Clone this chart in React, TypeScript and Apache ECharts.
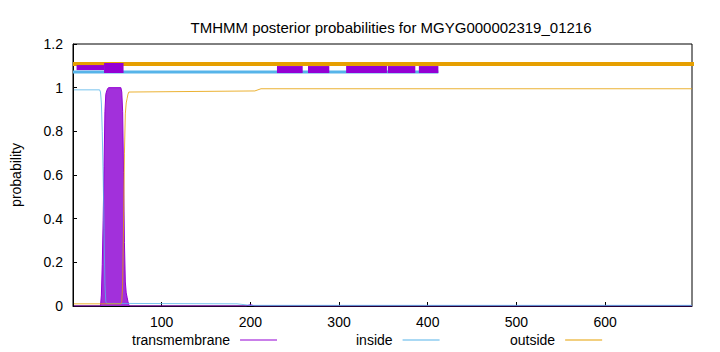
import React, { useEffect, useRef } from 'react';
import * as echarts from 'echarts';

const titleText = 'TMHMM posterior probabilities for MGYG000002319_01216';
const yAxisName = 'probability';
const seqLength = 698;
const legendNames = ['transmembrane', 'inside', 'outside'];

// posterior probability curves: [residue, probability]
const transmembranePts: [number, number][] = [
  [1, 0], [31, 0], [32, 0.05], [33, 0.19], [34, 0.39], [35, 0.64], [36, 0.89],
  [37, 0.97], [38, 0.985], [39, 0.995], [40, 1], [54, 1], [55, 0.98], [56, 0.89],
  [57, 0.61], [58, 0.29], [59, 0.11], [60, 0.06], [61, 0.04], [62, 0.02], [63, 0.005],
  [64, 0], [195, 0], [200, 0.006], [205, 0], [698, 0],
];
const insidePts: [number, number][] = [
  [1, 0.99], [30, 0.99], [31, 0.98], [32, 0.93], [33, 0.8], [34, 0.6], [35, 0.35],
  [36, 0.1], [37, 0.02], [38, 0.012], [185, 0.01], [200, 0.003], [698, 0.003],
];
const outsidePts: [number, number][] = [
  [1, 0.01], [54, 0.01], [55, 0.02], [56, 0.1], [57, 0.38], [58, 0.7], [59, 0.88],
  [60, 0.93], [61, 0.95], [62, 0.97], [63, 0.98], [205, 0.985], [212, 0.995], [698, 0.995],
];

// predicted topology bands
const outsideBand: [number, number][] = [[0, 1.108], [730, 1.108]];
const insideBand: [number, number][] = [[0, 1.072], [412, 1.072]];
const thinTmBand: [number, number][] = [[4, 35]];
const mainTmBox: [number, number][] = [[35, 57]];
const extraTmBoxes: [number, number][] = [[230, 259], [265, 289], [308, 354], [355, 386], [390, 412]];

const PURPLE = '#9400d3';
const BLUE = '#56b4e9';
const ORANGE = '#e69f00';
const FONT = 'Liberation Sans';

function boxSeries(data: [number, number][], level: number, h: number) {
  return {
    type: 'custom',
    silent: true,
    clip: false,
    z: 5,
    data,
    renderItem: (params: any, api: any) => {
      const p1 = api.coord([api.value(0), level]);
      const p2 = api.coord([api.value(1), level]);
      return {
        type: 'rect',
        shape: { x: p1[0], y: p1[1] - h / 2, width: p2[0] - p1[0], height: h },
        style: { fill: PURPLE },
      };
    },
  };
}

function legendAt(name: string, left: number) {
  return {
    data: [name],
    left,
    top: 333,
    padding: 0,
    align: 'right',
    icon: 'rect',
    itemWidth: 37,
    itemHeight: 1,
    selectedMode: false,
    textStyle: { fontFamily: FONT, fontSize: 14, color: '#000', padding: [0, 5, 0, 0] },
  };
}

export default function App() {
  const ref = useRef<HTMLDivElement>(null);
  useEffect(() => {
    if (!ref.current) return;
    const chart = echarts.init(ref.current, undefined, { renderer: 'svg' });
    chart.setOption({
      animation: false,
      backgroundColor: '#fff',
      title: {
        text: titleText,
        left: 386,
        textAlign: 'center',
        top: 15,
        textStyle: { fontFamily: FONT, fontSize: 15, fontWeight: 'normal', color: '#000' },
      },
      legend: [
        legendAt(legendNames[0], 132),
        legendAt(legendNames[1], 356),
        legendAt(legendNames[2], 510),
      ],
      grid: {
        left: 73, right: 28, top: 44, bottom: 46,
        show: true, borderColor: '#000', borderWidth: 1, backgroundColor: 'transparent',
      },
      xAxis: {
        type: 'value',
        min: 0,
        max: seqLength,
        interval: 100,
        axisLine: { show: true, lineStyle: { color: '#000' } },
        axisTick: { show: true, inside: true, length: 4, lineStyle: { color: '#000' } },
        splitLine: { show: false },
        axisLabel: {
          showMinLabel: false,
          showMaxLabel: false,
          margin: 9,
          fontFamily: FONT,
          fontSize: 14,
          color: '#000',
          formatter: (v: number) => (v === 0 || v > 600 ? '' : String(v)),
        },
      },
      yAxis: {
        type: 'value',
        min: 0,
        max: 1.2,
        interval: 0.2,
        name: yAxisName,
        nameLocation: 'middle',
        nameGap: 50,
        nameTextStyle: { fontFamily: FONT, fontSize: 14, color: '#000' },
        axisLine: { show: true, lineStyle: { color: '#000' } },
        axisTick: { show: true, inside: true, length: 4, lineStyle: { color: '#000' } },
        splitLine: { show: false },
        axisLabel: {
          margin: 10,
          fontFamily: FONT,
          fontSize: 14,
          color: '#000',
          formatter: (v: number) => String(Math.round(v * 10) / 10),
        },
      },
      series: [
        {
          name: 'transmembrane',
          type: 'line',
          data: transmembranePts,
          showSymbol: false,
          symbol: 'none',
          lineStyle: { color: PURPLE, width: 1 },
          itemStyle: { color: PURPLE },
          areaStyle: { color: '#9a1ed8', opacity: 0.92 },
          z: 3,
        },
        {
          name: 'inside',
          type: 'line',
          data: insidePts,
          showSymbol: false,
          symbol: 'none',
          lineStyle: { color: BLUE, width: 1, opacity: 0.8 },
          itemStyle: { color: BLUE },
          z: 4,
        },
        {
          name: 'outside',
          type: 'line',
          data: outsidePts,
          showSymbol: false,
          symbol: 'none',
          lineStyle: { color: ORANGE, width: 1, opacity: 0.8 },
          itemStyle: { color: ORANGE },
          z: 4,
        },
        {
          name: 'insideBand',
          type: 'line',
          data: insideBand,
          showSymbol: false,
          symbol: 'none',
          clip: false,
          silent: true,
          lineStyle: { color: BLUE, width: 3 },
          z: 4,
        },
        {
          name: 'outsideBand',
          type: 'line',
          data: outsideBand,
          showSymbol: false,
          symbol: 'none',
          clip: false,
          silent: true,
          lineStyle: { color: ORANGE, width: 4 },
          z: 4,
        },
        boxSeries(thinTmBand, 1.092, 5),
        boxSeries(mainTmBox, 1.09, 10),
        boxSeries(extraTmBoxes, 1.083, 7),
      ],
    });
    return () => chart.dispose();
  }, []);
  return <div ref={ref} style={{ width: 720, height: 352, position: 'absolute', left: 0, top: 0 }} />;
}
